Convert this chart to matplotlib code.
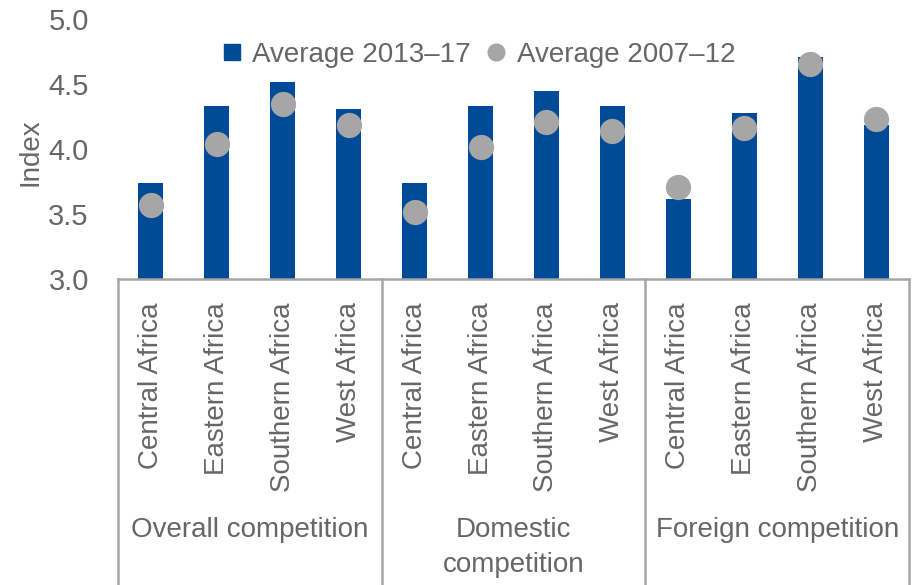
import numpy as np
import matplotlib
matplotlib.use('Agg')
import matplotlib.pyplot as plt
from matplotlib.lines import Line2D
import matplotlib.transforms as mtransforms

# data
groups = ['Overall competition', 'Domestic\ncompetition', 'Foreign competition']
regions = ['Central Africa', 'Eastern Africa', 'Southern Africa', 'West Africa']
avg_2013_17 = [3.74, 4.33, 4.52, 4.31,
               3.74, 4.33, 4.45, 4.33,
               3.62, 4.28, 4.71, 4.19]
avg_2007_12 = [3.57, 4.04, 4.35, 4.19,
               3.52, 4.02, 4.21, 4.14,
               3.71, 4.16, 4.66, 4.23]

plt.rcParams['font.family'] = ['Liberation Sans', 'DejaVu Sans']

txt = '#666666'
blue = '#004B98'
grey = '#A6A6A6'
fs = 20

fig = plt.figure(figsize=(9.13, 5.85), dpi=100)
ax = fig.add_axes([118 / 913, 1 - 279 / 585, (909 - 118) / 913, 259.5 / 585])

x = np.arange(len(avg_2013_17))
ax.bar(x, avg_2013_17, width=0.38, color=blue, zorder=2)
ax.scatter(x, avg_2007_12, s=330, color=grey, zorder=3, linewidths=0)

ax.set_ylim(3.0, 5.0)
ax.set_xlim(-0.5, len(x) - 0.5)
ax.set_yticks([3.0, 3.5, 4.0, 4.5, 5.0])
ax.set_yticklabels(['3.0', '3.5', '4.0', '4.5', '5.0'])
ax.set_xticks(x)
ax.set_xticklabels(regions * 3, rotation=90)
ax.tick_params(axis='y', length=0, pad=21, labelsize=21, labelcolor=txt)
ax.tick_params(axis='x', length=0, pad=17, labelsize=fs, labelcolor=txt)
ax.set_ylabel('Index', fontsize=fs, color=txt)
ax.yaxis.set_label_coords(-(118 - 44) / 791, (279 - 152) / 259.5)

for s in ['top', 'right', 'left']:
    ax.spines[s].set_visible(False)
ax.spines['bottom'].set_color(grey)
ax.spines['bottom'].set_linewidth(1.8)

# group separators and group labels under the axis
trans = mtransforms.blended_transform_factory(ax.transData, ax.transAxes)
for b in [-0.5, 3.5, 7.5, 11.5]:
    ax.add_line(Line2D([b, b], [0, -1.3], transform=trans, color=grey,
                       linewidth=1.8, clip_on=False))
for i, g in enumerate(groups):
    ax.text(4 * i + 1.5, -(517 - 279) / 259.5, g, transform=trans,
            ha='center', va='top', fontsize=fs, color=txt, linespacing=1.45)

handles = [Line2D([], [], marker='s', linestyle='none', color=blue, markersize=11),
           Line2D([], [], marker='o', linestyle='none', color=grey, markersize=12)]
fig.legend(handles, ['Average 2013\u201317', 'Average 2007\u201312'],
           loc='center', bbox_to_anchor=(478 / 913, 1 - 55 / 585), ncol=2,
           frameon=False, fontsize=fs, labelcolor=txt, handlelength=0.8,
           handletextpad=0.35, columnspacing=0.5)

fig.savefig('out.png', dpi=100)
